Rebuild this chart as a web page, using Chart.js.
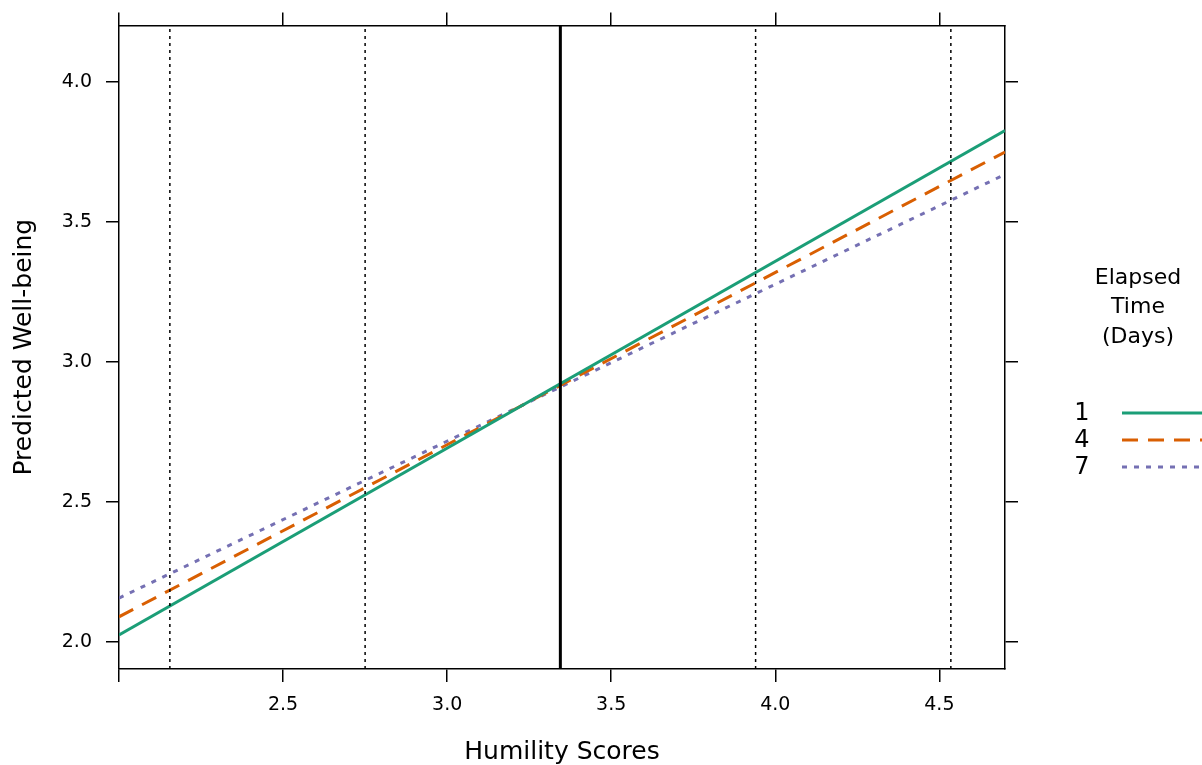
<!DOCTYPE html>
<html>
<head>
<meta charset="utf-8">
<script src="https://cdn.jsdelivr.net/npm/chart.js@4"></script>
<style>
  html, body { margin: 0; padding: 0; background: #fff; }
  .chart-wrap { width: 1202px; height: 765px; position: relative; }
</style>
</head>
<body>
<div class="chart-wrap"><canvas id="chart"></canvas></div>
<script>
// values
const humilityRange = [2.0, 4.7];
const wellbeingDay1 = [2.024, 3.827];
const wellbeingDay4 = [2.089, 3.750];
const wellbeingDay7 = [2.156, 3.670];
const dayLabels = ["1", "4", "7"];
const meanHumility = 3.345;
const sdHumility = [2.155, 2.75, 3.94, 4.535];
const xTicks = [2.0, 2.5, 3.0, 3.5, 4.0, 4.5];
const yTicks = [2.0, 2.5, 3.0, 3.5, 4.0];
const yRange = [1.9025, 4.2025];

const FONT = "'DejaVu Sans', 'Liberation Sans', Arial, sans-serif";
const colors = ["#1B9E77", "#D95F02", "#7570B3"];
const dashes = [[], [16, 10], [5, 7]];

const toPoints = (ys) => humilityRange.map((x, i) => ({ x: x, y: ys[i] }));
const vLine = (x) => yRange.map((y) => ({ x: x, y: y }));

const datasets = [wellbeingDay1, wellbeingDay4, wellbeingDay7].map((ys, i) => ({
  label: dayLabels[i],
  data: toPoints(ys),
  borderColor: colors[i],
  borderWidth: 3,
  borderDash: dashes[i],
  pointRadius: 0,
  order: 1 + i,
}));

sdHumility.forEach((x) => {
  datasets.push({
    label: "sd",
    data: vLine(x),
    borderColor: "#000",
    borderWidth: 1.5,
    borderDash: [3, 4],
    pointRadius: 0,
    order: 0,
  });
});

datasets.push({
  label: "mean",
  data: vLine(meanHumility),
  borderColor: "#000",
  borderWidth: 3,
  pointRadius: 0,
  order: 0,
});

// legend on the right, drawn by hand
const sideLegend = {
  id: "sideLegend",
  afterDraw(chart) {
    const ctx = chart.ctx;
    ctx.save();
    ctx.fillStyle = "#000";
    ctx.textAlign = "center";
    ctx.textBaseline = "middle";
    ctx.font = "22px " + FONT;
    ["Elapsed", "Time", "(Days)"].forEach((t, i) => {
      ctx.fillText(t, 1138, 278 + i * 29.5);
    });
    ctx.font = "24px " + FONT;
    dayLabels.forEach((lab, i) => {
      const y = 413 + i * 27;
      ctx.fillText(lab, 1082, y + 1);
      ctx.beginPath();
      ctx.strokeStyle = colors[i];
      ctx.lineWidth = 3;
      ctx.setLineDash(dashes[i]);
      ctx.moveTo(1122, y);
      ctx.lineTo(1202, y);
      ctx.stroke();
    });
    ctx.restore();
  },
};

const axisGrid = {
  drawOnChartArea: false,
  drawTicks: true,
  tickLength: 13,
  color: "#000",
  lineWidth: 1.5,
};
const axisBorder = { display: true, color: "#000", width: 1.5 };

const config = {
  type: "line",
  data: { datasets: datasets },
  options: {
    responsive: true,
    maintainAspectRatio: false,
    animation: false,
    layout: { padding: 0 },
    plugins: { legend: { display: false }, tooltip: { enabled: false } },
    scales: {
      x: {
        type: "linear",
        position: "bottom",
        min: humilityRange[0],
        max: humilityRange[1],
        afterBuildTicks: (s) => { s.ticks = xTicks.map((v) => ({ value: v })); },
        afterFit: (s) => { s.height = 96; },
        grid: axisGrid,
        border: axisBorder,
        ticks: {
          color: "#000",
          padding: 12,
          font: { family: FONT, size: 19 },
          callback: (v) => (v === humilityRange[0] ? "" : Number(v).toFixed(1)),
        },
        title: {
          display: true,
          text: "Humility Scores",
          color: "#000",
          font: { family: FONT, size: 25, lineHeight: 1.0 },
          padding: { top: 0, bottom: 0 },
        },
      },
      x2: {
        type: "linear",
        position: "top",
        min: humilityRange[0],
        max: humilityRange[1],
        afterBuildTicks: (s) => { s.ticks = xTicks.map((v) => ({ value: v })); },
        afterFit: (s) => { s.height = 25; },
        grid: axisGrid,
        border: axisBorder,
        ticks: { display: false },
      },
      y: {
        type: "linear",
        position: "left",
        min: yRange[0],
        max: yRange[1],
        afterBuildTicks: (s) => { s.ticks = yTicks.map((v) => ({ value: v })); },
        afterFit: (s) => { s.width = 119; },
        grid: axisGrid,
        border: axisBorder,
        ticks: {
          color: "#000",
          padding: 14,
          font: { family: FONT, size: 19 },
          callback: (v) => Number(v).toFixed(1),
        },
        title: {
          display: true,
          text: "Predicted Well-being",
          color: "#000",
          font: { family: FONT, size: 25, lineHeight: 1.0 },
          padding: { top: 12, bottom: 0 },
        },
      },
      y2: {
        type: "linear",
        position: "right",
        min: yRange[0],
        max: yRange[1],
        afterBuildTicks: (s) => { s.ticks = yTicks.map((v) => ({ value: v })); },
        afterFit: (s) => { s.width = 197; },
        grid: axisGrid,
        border: axisBorder,
        ticks: { display: false },
      },
    },
  },
  plugins: [sideLegend],
};

new Chart(document.getElementById("chart"), config);
</script>
</body>
</html>
